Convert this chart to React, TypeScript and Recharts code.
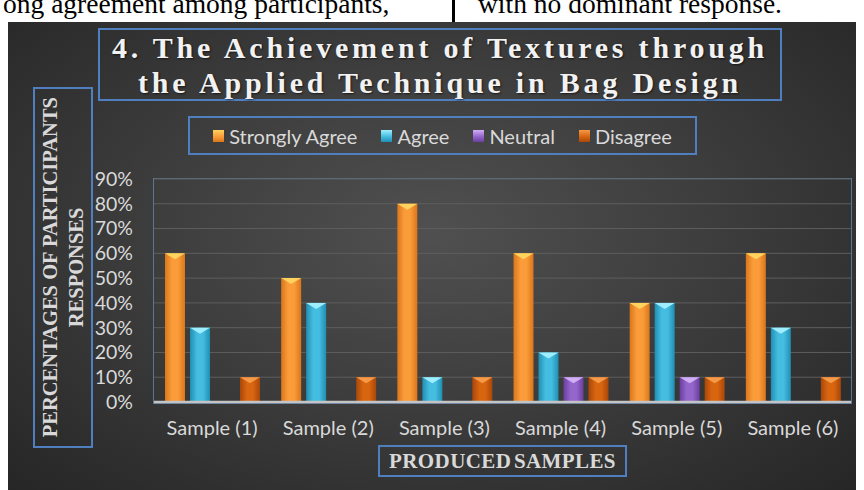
import { Bar, BarChart, CartesianGrid, XAxis, YAxis } from "recharts";

const samples = ["Sample (1)", "Sample (2)", "Sample (3)", "Sample (4)", "Sample (5)", "Sample (6)"];
const stronglyAgree = [60, 50, 80, 60, 40, 60];
const agree = [30, 40, 10, 20, 40, 30];
const neutral = [0, 0, 0, 10, 10, 0];
const disagree = [10, 10, 10, 10, 10, 10];
const yTicks = [0, 10, 20, 30, 40, 50, 60, 70, 80, 90];

const series = [
  { key: "stronglyAgree", name: "Strongly Agree", edge: "#d9761a", mid: "#fb9c3a", top: "#ffd35e" },
  { key: "agree", name: "Agree", edge: "#1f8fb3", mid: "#45bde0", top: "#9eeeff" },
  { key: "neutral", name: "Neutral", edge: "#6a3f9e", mid: "#9466cc", top: "#d2aef5" },
  { key: "disagree", name: "Disagree", edge: "#a9470a", mid: "#d8650f", top: "#f59a48" },
];

const data = samples.map((sample, i) => ({
  sample,
  stronglyAgree: stronglyAgree[i],
  agree: agree[i],
  neutral: neutral[i],
  disagree: disagree[i],
}));

const BOX_BLUE = "#4f7fbf";
const TEXT = "#d9d9d9";
const SANS = "Lato, 'Open Sans', sans-serif";
const SERIF = "'Liberation Serif', 'DejaVu Serif', serif";

// bar with a lighter bevelled top, like the Excel 3D-style fill
function BevelBar(props: any) {
  const { x, y, width, height, dataKey } = props;
  if (!height || height <= 0) return null;
  const s = series.find((item) => item.key === dataKey)!;
  const tip = Math.min(6, height / 2);
  return (
    <g>
      <rect x={x} y={y} width={width} height={height} fill={`url(#bar-${s.key})`} />
      <polygon
        points={`${x},${y} ${x + width},${y} ${x + width / 2},${y + tip}`}
        fill={s.top}
      />
    </g>
  );
}

export default function App() {
  return (
    <div
      style={{
        position: "absolute",
        left: 0,
        top: 0,
        width: 864,
        height: 490,
        background: "#ffffff",
        overflow: "hidden",
      }}
    >
      <svg width={0} height={0} style={{ position: "absolute" }}>
        <defs>
          {series.map((s) => (
            <linearGradient key={s.key} id={`bar-${s.key}`} x1="0" y1="0" x2="1" y2="0">
              <stop offset="0%" stopColor={s.edge} />
              <stop offset="35%" stopColor={s.mid} />
              <stop offset="65%" stopColor={s.mid} />
              <stop offset="100%" stopColor={s.edge} />
            </linearGradient>
          ))}
        </defs>
      </svg>

      {/* cropped page text above the chart */}
      <div
        style={{
          position: "absolute",
          left: 0,
          top: 0,
          width: 864,
          height: 22,
          overflow: "hidden",
          fontFamily: SERIF,
          fontSize: 27.5,
          lineHeight: "30px",
          color: "#000",
        }}
      >
        <span style={{ position: "absolute", left: 3, top: -11, whiteSpace: "nowrap" }}>
          ong agreement among participants,
        </span>
        <span style={{ position: "absolute", left: 452, top: 0, width: 3, height: 22, background: "#000" }} />
        <span style={{ position: "absolute", left: 478, top: -11, whiteSpace: "nowrap" }}>
          with no dominant response.
        </span>
      </div>

      <div
        style={{
          position: "absolute",
          left: 8,
          top: 22,
          width: 848,
          height: 468,
          background: "radial-gradient(ellipse at 50% 45%, #505050 0%, #3e3e3e 45%, #262626 100%)",
        }}
      />

      <div
        style={{
          position: "absolute",
          left: 98,
          top: 28,
          width: 680,
          height: 69,
          border: `2px solid ${BOX_BLUE}`,
          color: "#f2f2f2",
          fontFamily: SERIF,
          fontWeight: 700,
          fontSize: 30,
          letterSpacing: 3.8,
          lineHeight: "35px",
          textAlign: "center",
          whiteSpace: "nowrap",
          textShadow: "1px 1px 2px rgba(0,0,0,0.6)",
        }}
      >
        4. The Achievement of Textures through
        <br />
        the Applied Technique in Bag Design
      </div>

      {/* legend */}
      <div
        style={{
          position: "absolute",
          left: 188,
          top: 116,
          width: 505,
          height: 35,
          border: `2px solid ${BOX_BLUE}`,
          display: "flex",
          alignItems: "center",
          justifyContent: "center",
          gap: 24,
          fontFamily: SANS,
          fontSize: 20,
          color: TEXT,
        }}
      >
        {series.map((s) => (
          <span key={s.key} style={{ display: "flex", alignItems: "center", gap: 5 }}>
            <span
              style={{
                width: 11,
                height: 12,
                background: `linear-gradient(${s.top}, ${s.mid} 55%, ${s.edge})`,
              }}
            />
            {s.name}
          </span>
        ))}
      </div>

      <div
        style={{
          position: "absolute",
          left: 33,
          top: 87,
          width: 56,
          height: 357,
          border: `2px solid ${BOX_BLUE}`,
          display: "flex",
          alignItems: "center",
          justifyContent: "center",
        }}
      >
        <div
          style={{
            writingMode: "vertical-rl",
            transform: "rotate(180deg)",
            fontFamily: SERIF,
            fontWeight: 700,
            fontSize: 20.5,
            lineHeight: "26px",
            color: TEXT,
            textAlign: "center",
            whiteSpace: "nowrap",
          }}
        >
          PERCENTAGES OF PARTICIPANTS
          <br />
          RESPONSES
        </div>
      </div>

      <div
        style={{
          position: "absolute",
          left: 153,
          top: 178,
          width: 697,
          height: 224,
          border: "1px solid #5b7596",
        }}
      />

      <div
        style={{
          position: "absolute",
          left: 378,
          top: 445,
          width: 245,
          height: 28,
          border: `2px solid ${BOX_BLUE}`,
          fontFamily: SERIF,
          fontWeight: 700,
          fontSize: 21,
          lineHeight: "28px",
          letterSpacing: 0.4,
          wordSpacing: -3,
          color: TEXT,
          textAlign: "center",
          whiteSpace: "nowrap",
        }}
      >
        PRODUCED SAMPLES
      </div>

      <BarChart
        width={864}
        height={490}
        data={data}
        margin={{ top: 179, right: 13, bottom: 58, left: 94 }}
        barSize={20}
        barGap={5}
        style={{ position: "absolute", left: 0, top: 0 }}
      >
        <CartesianGrid vertical={false} stroke="#5e5e5e" strokeWidth={1} />
        <XAxis
          dataKey="sample"
          height={30}
          tickLine={false}
          tickSize={0}
          tickMargin={19}
          interval={0}
          axisLine={{ stroke: "#c4c4c4", strokeWidth: 2.5 }}
          tick={{ fill: TEXT, fontSize: 20, fontFamily: SANS }}
        />
        <YAxis
          width={60}
          domain={[0, 90]}
          ticks={yTicks}
          interval={0}
          tickFormatter={(v) => `${v}%`}
          axisLine={false}
          tickLine={false}
          tickSize={0}
          tickMargin={21}
          tick={{ fill: TEXT, fontSize: 19.5, fontFamily: SANS }}
        />
        {series.map((s) => (
          <Bar
            key={s.key}
            dataKey={s.key}
            name={s.name}
            fill={s.mid}
            shape={<BevelBar />}
            isAnimationActive={false}
          />
        ))}
      </BarChart>
    </div>
  );
}
